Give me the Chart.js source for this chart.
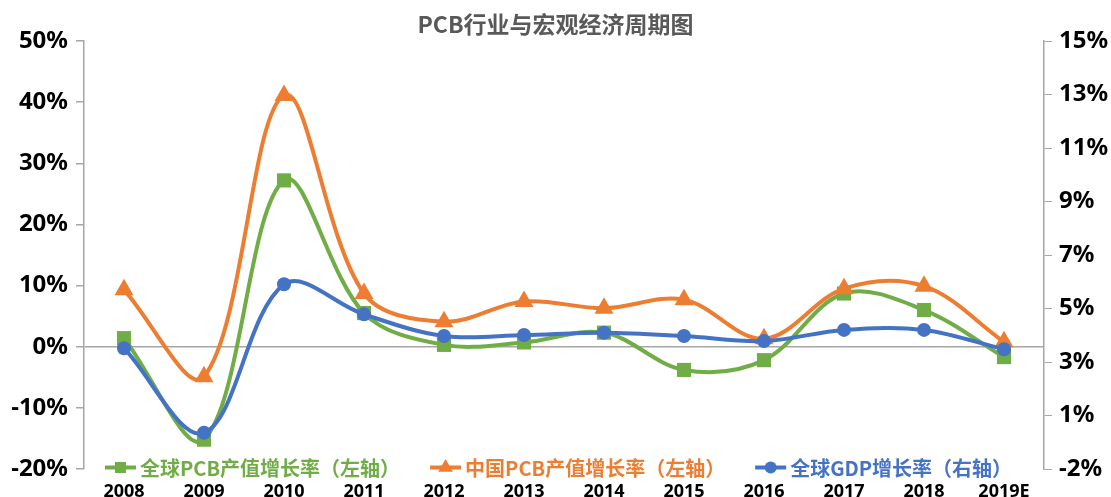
<!DOCTYPE html>
<html>
<head>
<meta charset="utf-8">
<script src="https://cdn.jsdelivr.net/npm/chart.js@4/dist/chart.umd.min.js"></script>
<style>
html,body{margin:0;padding:0;background:#fff;}
#wrap{width:1111px;height:497px;position:relative;}
</style>
</head>
<body>
<div id="wrap"><canvas id="c"></canvas></div>
<script>
// ---- data ----
const categories = ['2008','2009','2010','2011','2012','2013','2014','2015','2016','2017','2018','2019E'];
const globalPcbGrowth = [1.4, -15.2, 27.2, 5.5, 0.3, 0.7, 2.3, -3.8, -2.2, 8.7, 6.0, -1.7];   // left axis, %
const chinaPcbGrowth  = [9.3, -4.9, 41.1, 8.7, 4.1, 7.4, 6.3, 7.7, 1.3, 9.5, 9.9, 0.8];       // left axis, %
const globalGdpGrowth = [3.14, -0.18, 5.65, 4.47, 3.62, 3.66, 3.75, 3.62, 3.42, 3.86, 3.86, 3.10]; // right axis, %
const seriesNames = ['全球PCB产值增长率（左轴）', '中国PCB产值增长率（左轴）', '全球GDP增长率（右轴）'];
const leftMin = -20, leftMax = 50, leftStep = 10;
const rightTickValues = [-1.6, 0.5, 2.6, 4.7, 6.8, 8.9, 11.0, 13.1, 15.2];
const rightTickLabels = ['-2%', '1%', '3%', '5%', '7%', '9%', '11%', '13%', '15%'];
const titleText = 'PCB行业与宏观经济周期图';

const GREEN = '#70AD47', ORANGE = '#ED7D31', BLUE = '#4472C4', AXIS = '#A6A6A6';

Chart.defaults.font.family = "'Noto Sans', 'Noto Sans CJK SC', sans-serif";

const legendPlugin = {
  id: 'customLegend',
  afterDatasetsDraw(chart) {
    const ctx = chart.ctx;
    const y = 467.5;
    let x = 105;
    ctx.save();
    ctx.font = "bold 20px 'Noto Sans CJK SC', 'Noto Sans', sans-serif";
    ctx.textBaseline = 'middle';
    chart.data.datasets.forEach((ds) => {
      const color = ds.borderColor;
      ctx.strokeStyle = color;
      ctx.lineWidth = 4;
      ctx.beginPath();
      ctx.moveTo(x, y);
      ctx.lineTo(x + 31, y);
      ctx.stroke();
      ctx.fillStyle = color;
      const r = ds.pointStyle === 'triangle' ? 8.5 : (ds.pointStyle === 'rect' ? 7.8 : 6);
      Chart.helpers.drawPoint(ctx, {pointStyle: ds.pointStyle, radius: r, borderWidth: 0}, x + 15.5, y);
      ctx.fillStyle = color;
      ctx.fillText(ds.label, x + 35, y + 1);
      const w = ctx.measureText(ds.label).width;
      x += 35 + w + 30;
    });
    ctx.restore();
  }
};

new Chart(document.getElementById('c'), {
  type: 'line',
  data: {
    labels: categories,
    datasets: [
      {
        label: seriesNames[0], data: globalPcbGrowth, yAxisID: 'yL',
        borderColor: GREEN, backgroundColor: GREEN, borderWidth: 4,
        pointStyle: 'rect', pointRadius: 10, pointBorderWidth: 0,
        pointBackgroundColor: GREEN, tension: 0.35, order: 3
      },
      {
        label: seriesNames[1], data: chinaPcbGrowth, yAxisID: 'yL',
        borderColor: ORANGE, backgroundColor: ORANGE, borderWidth: 4,
        pointStyle: 'triangle', pointRadius: 11, pointBorderWidth: 0,
        pointBackgroundColor: ORANGE, tension: 0.35, order: 2
      },
      {
        label: seriesNames[2], data: globalGdpGrowth, yAxisID: 'yR',
        borderColor: BLUE, backgroundColor: BLUE, borderWidth: 4,
        pointStyle: 'circle', pointRadius: 7, pointBorderWidth: 0,
        pointBackgroundColor: BLUE, tension: 0.35, order: 1
      }
    ]
  },
  options: {
    responsive: true,
    maintainAspectRatio: false,
    animation: false,
    layout: { padding: 0 },
    plugins: {
      legend: { display: false },
      tooltip: { enabled: false },
      title: {
        display: true, text: titleText, color: '#595959',
        font: { family: "'Noto Sans CJK SC', sans-serif", size: 23, weight: 'bold' },
        padding: { top: 10, bottom: 3.4 }
      }
    },
    scales: {
      x: {
        type: 'category',
        offset: true,
        grid: { display: false, drawTicks: false },
        border: { display: false },
        ticks: { color: '#000', font: { size: 18, weight: 'bold' }, padding: 12, maxRotation: 0, autoSkip: false },
        afterFit(s) { s.height = 28; }
      },
      yL: {
        position: 'left',
        min: leftMin, max: leftMax,
        ticks: { stepSize: leftStep, color: '#000', font: { size: 24, weight: 'bold' }, padding: 8,
                 callback: v => v + '%' },
        grid: {
          drawOnChartArea: true, drawTicks: true, tickLength: 8, tickColor: AXIS,
          color: c => (c.tick && c.tick.value === 0) ? AXIS : 'rgba(0,0,0,0)', lineWidth: 1.5
        },
        border: { display: true, color: AXIS, width: 1.5 },
        afterFit(s) { s.width = 84; }
      },
      yR: {
        position: 'right',
        min: rightTickValues[0], max: rightTickValues[rightTickValues.length - 1],
        afterBuildTicks(s) { s.ticks = rightTickValues.map(v => ({ value: v })); },
        ticks: { color: '#000', font: { size: 24, weight: 'bold' }, padding: 7,
                 callback: (v, i) => rightTickLabels[i] },
        grid: { drawOnChartArea: false, drawTicks: true, tickLength: 8, tickColor: AXIS, color: AXIS },
        border: { display: true, color: AXIS, width: 1.5 },
        afterFit(s) { s.width = 67; }
      }
    }
  },
  plugins: [legendPlugin]
});
</script>
</body>
</html>
